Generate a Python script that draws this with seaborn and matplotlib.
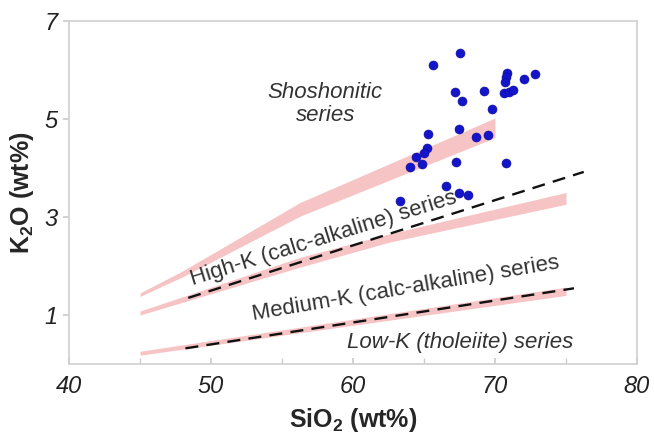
import numpy as np
import pandas as pd
import matplotlib
matplotlib.use("Agg")
import matplotlib.pyplot as plt
import seaborn as sns

# Sample compositions (SiO2 vs K2O, wt%)
sio2 = [67.57, 65.62, 70.87, 70.80, 70.70, 72.04, 72.81, 67.20, 69.22,
        70.63, 70.98, 71.29, 67.69, 69.76, 67.48, 65.27, 68.68, 69.50,
        65.23, 64.99, 64.47, 64.00, 64.87, 67.22, 70.75, 66.57, 67.50,
        68.09, 63.34]
k2o = [6.35, 6.10, 5.94, 5.86, 5.76, 5.82, 5.92, 5.56, 5.57,
       5.54, 5.56, 5.59, 5.37, 5.20, 4.80, 4.69, 4.63, 4.67,
       4.40, 4.30, 4.23, 4.03, 4.08, 4.13, 4.11, 3.64, 3.48,
       3.45, 3.33]

# Series boundary bands (SiO2 nodes, lower and upper K2O edges)
shosh_x = [45.0, 48.0, 56.3, 70.0]
shosh_lo = [1.38, 1.78, 3.02, 4.62]
shosh_hi = [1.45, 1.90, 3.30, 5.02]

highk_x = [45.0, 56.3, 62.6, 75.0]
highk_lo = [1.00, 1.98, 2.49, 3.26]
highk_hi = [1.08, 2.18, 2.66, 3.50]

medk_x = [45.0, 75.0]
medk_lo = [0.18, 1.40]
medk_hi = [0.26, 1.57]

# Dashed boundary lines
dash_upper_x = [48.4, 76.25]
dash_upper_y = [1.35, 3.92]
dash_lower_x = [48.2, 75.56]
dash_lower_y = [0.32, 1.545]

x_ticks = [40, 50, 60, 70, 80]
y_ticks = [1, 3, 5, 7]

sns.set_theme(style="white")
plt.rcParams["font.family"] = ["Liberation Sans", "DejaVu Sans"]
plt.rcParams["mathtext.fontset"] = "custom"
plt.rcParams["mathtext.rm"] = "Liberation Sans"
plt.rcParams["mathtext.bf"] = "Liberation Sans:bold"

fig = plt.figure(figsize=(6.54, 4.37), dpi=100)
ax = fig.add_axes([0.1055, 0.167, 0.974 - 0.1055, 0.952 - 0.167])

band_color = "#f4b0b0"
for bx, lo, hi in [(shosh_x, shosh_lo, shosh_hi),
                   (highk_x, highk_lo, highk_hi),
                   (medk_x, medk_lo, medk_hi)]:
    ax.fill_between(bx, lo, hi, color=band_color, lw=0, alpha=0.75, zorder=1)

dash_df = pd.DataFrame({
    "SiO2": dash_upper_x + dash_lower_x,
    "K2O": dash_upper_y + dash_lower_y,
    "line": ["upper"] * 2 + ["lower"] * 2,
})
for name, grp in dash_df.groupby("line"):
    sns.lineplot(data=grp, x="SiO2", y="K2O", ax=ax, color="#111111",
                 lw=1.7, dashes=False, zorder=2, legend=False)
for line in ax.lines:
    line.set_dashes((5.5, 3.5))
    line.set_dash_capstyle("butt")

pts = pd.DataFrame({"SiO2": sio2, "K2O": k2o})
sns.scatterplot(data=pts, x="SiO2", y="K2O", ax=ax, color="#1414c8",
                s=42, edgecolor="#0a0a9a", linewidth=0.4, zorder=3)

txt_color = "#333333"
ax.text(58.05, 5.30, "Shoshonitic\nseries", style="italic", fontsize=16,
        color=txt_color, ha="center", va="center", linespacing=1.1)
ax.text(57.9, 2.55, "High-K (calc-alkaline) series", fontsize=16,
        color=txt_color, ha="center", va="center", rotation=17.3,
        rotation_mode="anchor")
ax.text(63.73, 1.535, "Medium-K (calc-alkaline) series", fontsize=16,
        color=txt_color, ha="center", va="center", rotation=9.6,
        rotation_mode="anchor")
ax.text(67.54, 0.43, "Low-K (tholeiite) series", style="italic", fontsize=16,
        color=txt_color, ha="center", va="center")

ax.set_xlim(40, 80)
ax.set_ylim(0, 7)
ax.set_xticks(x_ticks)
ax.set_xticks(np.arange(45, 80, 5), minor=True)
ax.set_yticks(y_ticks)
ax.set_xticklabels([str(v) for v in x_ticks], style="italic", fontsize=17,
                   color="#222222")
ax.set_yticklabels([str(v) for v in y_ticks], style="italic", fontsize=17,
                   color="#222222")
ax.tick_params(axis="x", which="both", direction="in", length=4,
               color="#cccccc", bottom=True, pad=8)
ax.tick_params(axis="y", direction="out", length=4, color="#cccccc",
               left=True, pad=4)

for sp in ax.spines.values():
    sp.set_color("#d0d0d0")
    sp.set_linewidth(1.2)

ax.set_xlabel("SiO$_\\mathbf{2}$ (wt%)", fontsize=18, fontweight="bold",
              labelpad=6)
ax.set_ylabel("K$_\\mathbf{2}$O (wt%)", fontsize=18, fontweight="bold",
              labelpad=6)

fig.savefig("out.png", dpi=100)
